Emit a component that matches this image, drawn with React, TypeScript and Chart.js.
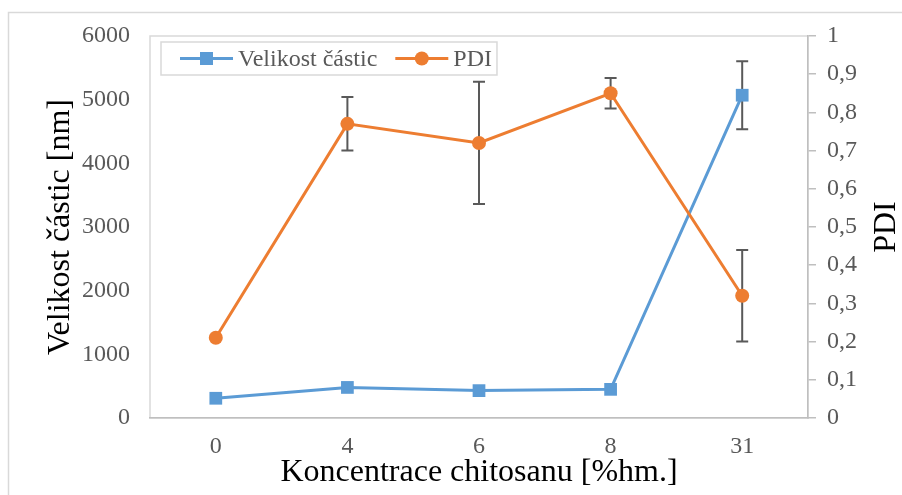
import React, { useEffect, useRef } from "react";
import { Chart, registerables } from "chart.js";

Chart.register(...registerables);

// Chitosan concentration [%hm.]
const categories = ["0", "4", "6", "8", "31"];
// Particle size [nm] and its standard deviation
const particleSize = [310, 480, 430, 450, 5070];
const particleSizeErr = [0, 0, 0, 0, 535];
// Polydispersity index and its standard deviation
const pdi = [0.21, 0.77, 0.72, 0.85, 0.32];
const pdiErr = [0, 0.07, 0.16, 0.04, 0.12];
// Axis tick values
const sizeTicks = [0, 1000, 2000, 3000, 4000, 5000, 6000];
const pdiTicks = [0, 0.1, 0.2, 0.3, 0.4, 0.5, 0.6, 0.7, 0.8, 0.9, 1];

const SERIF = "'Liberation Serif', 'Times New Roman', serif";
const BLUE = "#5b9bd5";
const ORANGE = "#ed7d31";
const TICK_COLOR = "#595959";
const AXIS_COLOR = "#bfbfbf";
const FRAME_COLOR = "#d9d9d9";

const errorSets: Record<number, number[]> = { 0: particleSizeErr, 1: pdiErr };

const framePlugin = {
  id: "frame",
  beforeDraw(chart: any) {
    const { ctx, chartArea: ca, width, height } = chart;
    ctx.save();
    ctx.fillStyle = "#ffffff";
    ctx.fillRect(0, 0, width, height);
    ctx.strokeStyle = FRAME_COLOR;
    ctx.lineWidth = 1.5;
    ctx.strokeRect(8.5, 12.5, width + 20, height + 20);
    ctx.strokeRect(ca.left, ca.top, ca.right - ca.left, ca.bottom - ca.top);
    ctx.restore();
  },
};

const errorBarPlugin = {
  id: "errorBars",
  beforeDatasetsDraw(chart: any) {
    const ctx = chart.ctx;
    chart.data.datasets.forEach((ds: any, i: number) => {
      const errs = errorSets[i];
      if (!errs) return;
      const meta = chart.getDatasetMeta(i);
      const yScale = chart.scales[ds.yAxisID];
      meta.data.forEach((pt: any, j: number) => {
        const e = errs[j];
        if (!e) return;
        const v = ds.data[j];
        const yTop = yScale.getPixelForValue(v + e);
        const yBot = yScale.getPixelForValue(v - e);
        const x = pt.x;
        ctx.save();
        ctx.strokeStyle = TICK_COLOR;
        ctx.lineWidth = 2;
        ctx.beginPath();
        ctx.moveTo(x, yTop);
        ctx.lineTo(x, yBot);
        ctx.moveTo(x - 6, yTop);
        ctx.lineTo(x + 6, yTop);
        ctx.moveTo(x - 6, yBot);
        ctx.lineTo(x + 6, yBot);
        ctx.stroke();
        ctx.restore();
      });
    });
  },
};

const legendPlugin = {
  id: "boxLegend",
  afterDraw(chart: any) {
    const { ctx, chartArea: ca } = chart;
    const font = `24px ${SERIF}`;
    ctx.save();
    ctx.font = font;
    const boxX = ca.left + 11;
    const boxY = ca.top + 6;
    const boxH = 33;
    const cy = boxY + boxH / 2;
    let x = boxX + 19;
    const items = chart.data.datasets.map((ds: any) => ({
      label: ds.label,
      color: ds.borderColor,
      style: ds.pointStyle,
    }));
    const layout: any[] = [];
    items.forEach((it: any, k: number) => {
      const lineStart = x;
      const lineEnd = x + 53;
      const textX = lineEnd + 5;
      const tw = ctx.measureText(it.label).width;
      layout.push({ ...it, lineStart, lineEnd, textX });
      x = textX + tw + (k < items.length - 1 ? 18 : 5);
    });
    const boxW = x - boxX;
    ctx.fillStyle = "#ffffff";
    ctx.fillRect(boxX, boxY, boxW, boxH);
    ctx.strokeStyle = FRAME_COLOR;
    ctx.lineWidth = 1.5;
    ctx.strokeRect(boxX, boxY, boxW, boxH);
    layout.forEach((it) => {
      ctx.strokeStyle = it.color;
      ctx.lineWidth = 3;
      ctx.beginPath();
      ctx.moveTo(it.lineStart, cy);
      ctx.lineTo(it.lineEnd, cy);
      ctx.stroke();
      const mx = (it.lineStart + it.lineEnd) / 2;
      ctx.fillStyle = it.color;
      if (it.style === "rect") {
        ctx.fillRect(mx - 6.5, cy - 6.5, 13, 13);
      } else {
        ctx.beginPath();
        ctx.arc(mx, cy, 7, 0, Math.PI * 2);
        ctx.fill();
      }
      ctx.fillStyle = TICK_COLOR;
      ctx.textAlign = "left";
      ctx.textBaseline = "middle";
      ctx.fillText(it.label, it.textX, cy + 1);
    });
    ctx.restore();
  },
};

const rightTitlePlugin = {
  id: "rightTitle",
  afterDraw(chart: any) {
    const { ctx, chartArea: ca, width } = chart;
    ctx.save();
    ctx.translate(width - 15, (ca.top + ca.bottom) / 2);
    ctx.rotate(-Math.PI / 2);
    ctx.font = `32px ${SERIF}`;
    ctx.fillStyle = "#000000";
    ctx.textAlign = "center";
    ctx.textBaseline = "middle";
    ctx.fillText("PDI", 0, 0);
    ctx.restore();
  },
};

export default function App() {
  const canvasRef = useRef<HTMLCanvasElement | null>(null);

  useEffect(() => {
    const canvas = canvasRef.current;
    if (!canvas) return;
    const tickFont = { family: SERIF, size: 24 };
    const chart = new Chart(canvas, {
      type: "line",
      data: {
        labels: categories,
        datasets: [
          {
            label: "Velikost částic",
            data: particleSize,
            yAxisID: "y",
            borderColor: BLUE,
            backgroundColor: BLUE,
            borderWidth: 3,
            pointStyle: "rect",
            pointRadius: 9,
            pointBorderWidth: 0,
            pointBackgroundColor: BLUE,
            order: 1,
          },
          {
            label: "PDI",
            data: pdi,
            yAxisID: "y1",
            borderColor: ORANGE,
            backgroundColor: ORANGE,
            borderWidth: 3,
            pointStyle: "circle",
            pointRadius: 7,
            pointBorderWidth: 0,
            pointBackgroundColor: ORANGE,
            order: 0,
          },
        ],
      },
      options: {
        responsive: false,
        animation: false,
        devicePixelRatio: 1,
        layout: { padding: { top: 36, left: 0, right: 0, bottom: 0 } },
        plugins: {
          legend: { display: false },
          tooltip: { enabled: false },
        },
        scales: {
          x: {
            type: "category",
            offset: true,
            grid: { display: false, drawTicks: false },
            border: { display: true, color: AXIS_COLOR, width: 1.5 },
            ticks: {
              font: tickFont,
              color: TICK_COLOR,
              padding: 14,
              maxRotation: 0,
              autoSkip: false,
            },
            title: {
              display: true,
              text: "Koncentrace chitosanu [%hm.]",
              font: { family: SERIF, size: 32 },
              color: "#000000",
              padding: { top: 0, bottom: 3 },
            },
            afterFit(s: any) {
              s.height = 77;
            },
          },
          y: {
            position: "left",
            min: 0,
            max: 6000,
            grid: { display: false, drawTicks: false },
            border: { display: false },
            afterBuildTicks(s: any) {
              s.ticks = sizeTicks.map((v) => ({ value: v }));
            },
            ticks: {
              font: tickFont,
              color: TICK_COLOR,
              padding: 20,
              callback: (v: any) => String(v),
            },
            title: {
              display: true,
              text: "Velikost částic [nm]",
              font: { family: SERIF, size: 32 },
              color: "#000000",
              padding: { top: 41, bottom: 0 },
            },
            afterFit(s: any) {
              s.width = 150;
            },
          },
          y1: {
            position: "right",
            min: 0,
            max: 1,
            grid: {
              drawOnChartArea: false,
              drawTicks: true,
              tickLength: 8,
              color: AXIS_COLOR,
              lineWidth: 1.5,
            },
            border: { display: true, color: AXIS_COLOR, width: 1.5 },
            afterBuildTicks(s: any) {
              s.ticks = pdiTicks.map((v) => ({ value: v }));
            },
            ticks: {
              font: tickFont,
              color: TICK_COLOR,
              padding: 11,
              callback: (v: any) => String(Number(Number(v).toFixed(1))).replace(".", ","),
            },
            afterFit(s: any) {
              s.width = 94;
            },
          },
        },
      },
      plugins: [framePlugin, errorBarPlugin, legendPlugin, rightTitlePlugin],
    } as any);
    return () => chart.destroy();
  }, []);

  return (
    <div style={{ position: "fixed", left: 0, top: 0, width: 902, height: 495, background: "#fff" }}>
      <canvas ref={canvasRef} width={902} height={495} style={{ display: "block", width: 902, height: 495 }} />
    </div>
  );
}
